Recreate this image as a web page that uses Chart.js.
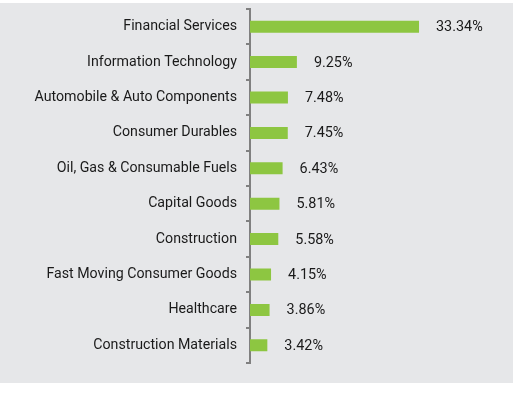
<!DOCTYPE html>
<html>
<head>
<meta charset="utf-8">
<script src="https://cdn.jsdelivr.net/npm/chart.js@4/dist/chart.umd.min.js"></script>
<style>
  html, body { margin: 0; padding: 0; background: #ffffff; }
  #wrap { width: 515px; height: 399px; }
</style>
</head>
<body>
<div id="wrap"><canvas id="chart" width="515" height="399"></canvas></div>
<script>
const sectors = [
    "Financial Services",
    "Information Technology",
    "Automobile & Auto Components",
    "Consumer Durables",
    "Oil, Gas & Consumable Fuels",
    "Capital Goods",
    "Construction",
    "Fast Moving Consumer Goods",
    "Healthcare",
    "Construction Materials"
];
const weights = [33.34, 9.25, 7.48, 7.45, 6.43, 5.81, 5.58, 4.15, 3.86, 3.42];

// grey panel behind the chart
const panel = {
    id: "panel",
    beforeDraw(chart) {
        const ctx = chart.ctx;
        ctx.save();
        ctx.fillStyle = "#e6e7e9";
        ctx.fillRect(0, 3, 513, 380);
        ctx.restore();
    }
};

// percentage text after each bar
const valueLabels = {
    id: "valueLabels",
    afterDatasetsDraw(chart) {
        const ctx = chart.ctx;
        const meta = chart.getDatasetMeta(0);
        ctx.save();
        ctx.font = "14.4px Roboto";
        ctx.fillStyle = "#1a1a1a";
        ctx.textBaseline = "middle";
        ctx.textAlign = "left";
        meta.data.forEach((bar, i) => {
            ctx.fillText(weights[i].toFixed(2) + "%", bar.x + 17, bar.y + 1);
        });
        ctx.restore();
    }
};

new Chart(document.getElementById("chart"), {
    type: "bar",
    data: {
        labels: sectors,
        datasets: [{
            data: weights,
            backgroundColor: "#8dc641",
            barPercentage: 0.34,
            categoryPercentage: 1.0
        }]
    },
    options: {
        indexAxis: "y",
        responsive: false,
        animation: false,
        layout: { padding: { top: 9, bottom: 36, left: 0, right: 11.5 } },
        plugins: {
            legend: { display: false },
            tooltip: { enabled: false }
        },
        scales: {
            x: {
                display: false,
                min: 0,
                max: 50
            },
            y: {
                afterFit(scale) {
                    scale.width = 250;
                    scale.paddingTop = 0;
                    scale.paddingBottom = 0;
                },
                border: { display: true, color: "#808080", width: 2 },
                grid: {
                    offset: true,
                    drawOnChartArea: false,
                    drawTicks: true,
                    tickLength: 4,
                    color: "#808080",
                    lineWidth: 2
                },
                ticks: {
                    padding: 9,
                    color: "#1a1a1a",
                    font: { family: "Roboto", size: 14.2 }
                }
            }
        }
    },
    plugins: [panel, valueLabels]
});
</script>
</body>
</html>
